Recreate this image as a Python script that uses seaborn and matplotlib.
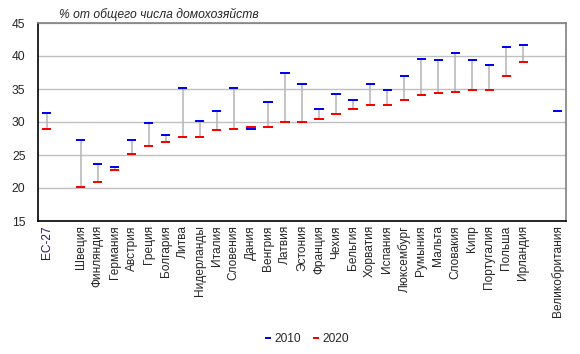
import numpy as np
import pandas as pd
import matplotlib
matplotlib.use("Agg")
import matplotlib.pyplot as plt
from matplotlib.lines import Line2D
import seaborn as sns

categories = ["ЕС-27", "", "Швеция", "Финляндия", "Германия", "Австрия", "Греция",
              "Болгария", "Литва", "Нидерланды", "Италия", "Словения", "Дания",
              "Венгрия", "Латвия", "Эстония", "Франция", "Чехия", "Бельгия",
              "Хорватия", "Испания", "Люксембург", "Румыния", "Мальта", "Словакия",
              "Кипр", "Португалия", "Польша", "Ирландия", "", "Великобритания"]
values_2010 = [31.3, np.nan, 27.2, 23.7, 23.2, 27.3, 29.8, 28.1, 35.2, 30.1, 31.6,
               35.1, 29.0, 33.1, 37.4, 35.8, 31.9, 34.3, 33.3, 35.8, 34.8, 36.9,
               39.6, 39.4, 40.5, 39.4, 38.7, 41.4, 41.7, np.nan, 31.7]
values_2020 = [29.0, np.nan, 20.2, 20.9, 22.8, 25.1, 26.4, 27.0, 27.8, 27.8, 28.8,
               29.0, 29.2, 29.2, 30.0, 30.0, 30.4, 31.2, 31.9, 32.6, 32.6, 33.4,
               34.1, 34.4, 34.6, 34.9, 34.9, 36.9, 39.1, np.nan, np.nan]
years = ["2010", "2020"]
colors = {"2010": "#0000ff", "2020": "#ff0000"}
y_ticks = [15, 20, 25, 30, 35, 40, 45]
title_text = "% от общего числа домохозяйств"

sns.set_theme(style="white")
plt.rcParams["font.family"] = ["Liberation Sans", "DejaVu Sans"]

pos = np.arange(len(categories))
df = pd.DataFrame({
    "pos": np.concatenate([pos, pos]),
    "value": np.concatenate([values_2010, values_2020]),
    "year": [years[0]] * len(pos) + [years[1]] * len(pos),
})

fig = plt.figure(figsize=(5.8, 3.54), dpi=100)
ax = fig.add_axes([38 / 580, 1 - 221 / 354, (566 - 38) / 580, (221 - 23) / 354])

# hi-lo connecting lines
lo = np.fmin(values_2010, values_2020)
hi = np.fmax(values_2010, values_2020)
ax.vlines(pos, lo, hi, color="#b4b4b4", linewidth=1.1, zorder=2)

dash = [(-0.5, -0.11), (0.5, -0.11), (0.5, 0.11), (-0.5, 0.11)]
sns.scatterplot(data=df, x="pos", y="value", hue="year", palette=colors,
                marker=dash, s=44, linewidth=0, legend=False, ax=ax, zorder=3)

ax.set_xlim(-0.5, len(categories) - 0.5)
ax.set_ylim(15, 45)
ax.set_yticks(y_ticks)
ax.set_yticklabels([str(t) for t in y_ticks], fontsize=8.7)
ax.set_xticks(pos)
ax.set_xticklabels(categories, rotation=90, fontsize=8.6)
ax.get_xticklabels()[0].set_color("#3a0a6a")
ax.tick_params(axis="both", length=0)
ax.tick_params(axis="y", pad=9)
ax.tick_params(axis="x", pad=3)
ax.set_xlabel("")
ax.set_ylabel("")

ax.grid(axis="y", color="#c0c0c0", linewidth=1)
ax.set_axisbelow(True)
for side in ["left", "bottom"]:
    ax.spines[side].set_color("black")
    ax.spines[side].set_linewidth(1.2)
for side in ["top", "right"]:
    ax.spines[side].set_color("#808080")
    ax.spines[side].set_linewidth(1.2)

fig.text(59 / 580, 1 - 14 / 354, title_text, fontsize=8.7, style="italic",
         va="center", ha="left")

leg_dash = [(-0.5, -0.25), (0.5, -0.25), (0.5, 0.25), (-0.5, 0.25)]
handles = [Line2D([], [], color=colors[y], marker=leg_dash, markersize=4,
                  linestyle="none", markeredgewidth=0) for y in years]
fig.legend(handles, years, loc="center", bbox_to_anchor=(307 / 580, 1 - 339 / 354),
           ncol=2, frameon=False, fontsize=8.6, handlelength=0.5, handletextpad=0.3,
           columnspacing=1.0)

fig.savefig("out.png", dpi=100)
